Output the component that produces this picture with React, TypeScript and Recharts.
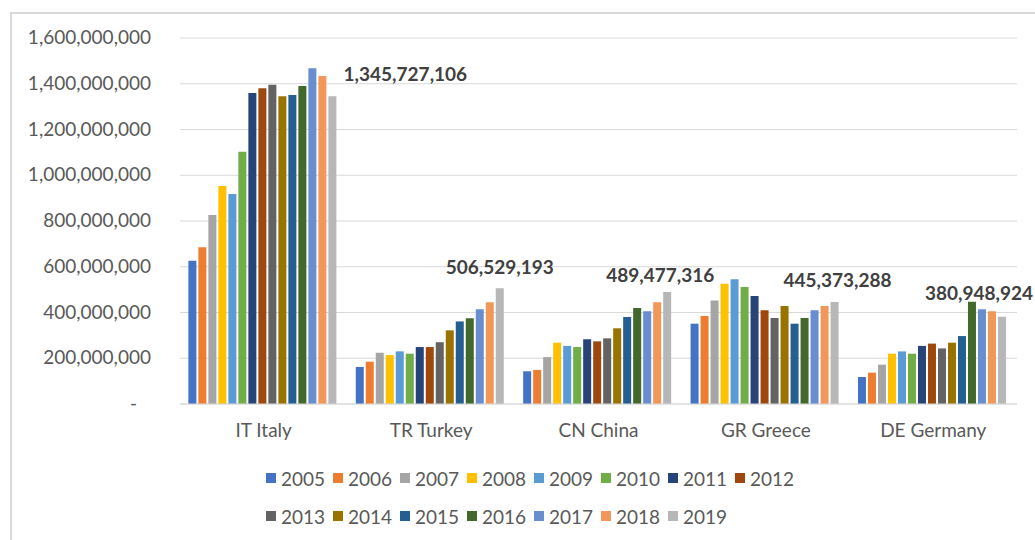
import React from 'react';
import { BarChart, Bar, XAxis, YAxis, CartesianGrid, LabelList } from 'recharts';

const countries = ['IT Italy', 'TR Turkey', 'CN China', 'GR Greece', 'DE Germany'];
const years = ['2005', '2006', '2007', '2008', '2009', '2010', '2011', '2012', '2013', '2014', '2015', '2016', '2017', '2018', '2019'];
const colors = ['#4472C4', '#ED7D31', '#A5A5A5', '#FFC000', '#5B9BD5', '#70AD47', '#264478', '#9E480E', '#636363', '#997300', '#255E91', '#43682B', '#698ED0', '#F1975A', '#B7B7B7'];

const italy = [626e6, 685e6, 826e6, 953e6, 918e6, 1103e6, 1360e6, 1380e6, 1396e6, 1345e6, 1351e6, 1390e6, 1468e6, 1434e6, 1345727106];
const turkey = [162e6, 185e6, 224e6, 214e6, 230e6, 220e6, 249e6, 249e6, 270e6, 322e6, 361e6, 375e6, 414e6, 445e6, 506529193];
const china = [143e6, 149e6, 205e6, 268e6, 254e6, 249e6, 283e6, 274e6, 287e6, 331e6, 380e6, 420e6, 405e6, 445e6, 489477316];
const greece = [351e6, 385e6, 453e6, 526e6, 545e6, 511e6, 472e6, 410e6, 376e6, 428e6, 351e6, 376e6, 410e6, 428e6, 445373288];
const germany = [118e6, 137e6, 172e6, 220e6, 230e6, 220e6, 254e6, 264e6, 243e6, 268e6, 297e6, 447e6, 414e6, 405e6, 380948924];

const yTicks = [0, 200e6, 400e6, 600e6, 800e6, 1000e6, 1200e6, 1400e6, 1600e6];

const seriesByCountry = [italy, turkey, china, greece, germany];
const data = countries.map((c, ci) => {
  const row: Record<string, any> = { country: c };
  years.forEach((y, yi) => {
    row['y' + y] = seriesByCountry[ci][yi];
  });
  return row;
});

// label placement offsets (style only)
const labelDx = [73, 0, -7, 3, -23];
const labelDy = [-22, -21, -17, -22, -24];

const FONT = 'Lato, "Open Sans", sans-serif';
const fmt = (v: number) => Math.round(v).toLocaleString('en-US');

const YTick = (props: any) => {
  const { x, y, payload } = props;
  const v = payload.value;
  return (
    <text x={v === 0 ? x - 14 : x} y={y} dy={6} textAnchor="end" fill="#595959" fontSize={19} fontFamily={FONT}>
      {v === 0 ? '-' : fmt(v)}
    </text>
  );
};

const XTick = (props: any) => {
  const { x, y, payload } = props;
  return (
    <text x={x} y={y} dy={17} textAnchor="middle" fill="#595959" fontSize={19} fontFamily={FONT}>
      {payload.value}
    </text>
  );
};

const ValueLabel = (props: any) => {
  const { x, y, width, value, index } = props;
  return (
    <text
      x={x + width / 2 + labelDx[index]}
      y={y + labelDy[index]}
      dy={7}
      textAnchor="middle"
      fill="#404040"
      fontSize={19}
      fontWeight="bold"
      fontFamily={FONT}
    >
      {fmt(value)}
    </text>
  );
};

const LegendRow = ({ items }: { items: number[] }) => (
  <div style={{ display: 'flex', height: 38, alignItems: 'center' }}>
    {items.map((i) => (
      <div key={years[i]} style={{ display: 'flex', alignItems: 'center', width: 67 }}>
        <div style={{ width: 10, height: 10, background: colors[i], marginRight: 5 }} />
        <span style={{ fontSize: 19, color: '#595959', fontFamily: FONT }}>{years[i]}</span>
      </div>
    ))}
  </div>
);

export default function App() {
  return (
    <div style={{ position: 'absolute', left: 0, top: 0, width: 1035, height: 540, overflow: 'hidden', background: '#fff' }}>
      <div style={{ position: 'absolute', left: 10, top: 12, width: 1040, height: 540, border: '2px solid #d9d9d9', boxSizing: 'border-box' }} />
      <div style={{ position: 'absolute', left: 0, top: 0 }}>
        <BarChart width={1035} height={540} data={data} margin={{ top: 38, right: 18, left: 0, bottom: 96 }} barCategoryGap="5%" barGap={2}>
          <CartesianGrid vertical={false} stroke="#d9d9d9" />
          <XAxis dataKey="country" height={40} tickLine={false} axisLine={{ stroke: '#d9d9d9' }} tick={<XTick />} tickMargin={10} interval={0} />
          <YAxis width={180} domain={[0, 1600e6]} ticks={yTicks} tickLine={false} axisLine={false} tick={<YTick />} tickMargin={23} interval={0} />
          {years.map((y, i) => (
            <Bar key={y} dataKey={'y' + y} fill={colors[i]} isAnimationActive={false}>
              {i === years.length - 1 ? <LabelList dataKey={'y' + y} content={<ValueLabel />} /> : null}
            </Bar>
          ))}
        </BarChart>
      </div>
      <div style={{ position: 'absolute', left: 266, top: 459 }}>
        <LegendRow items={[0, 1, 2, 3, 4, 5, 6, 7]} />
        <LegendRow items={[8, 9, 10, 11, 12, 13, 14]} />
      </div>
    </div>
  );
}
